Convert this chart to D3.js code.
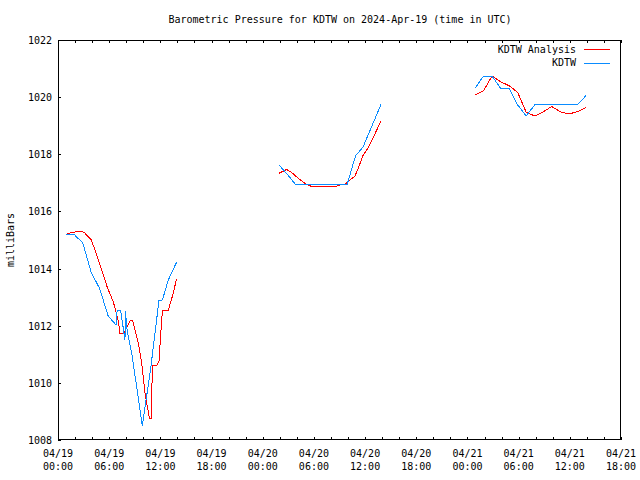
<!DOCTYPE html>
<html><head><meta charset="utf-8">
<script src="https://cdn.jsdelivr.net/npm/d3@7"></script>
<style>
html,body{margin:0;padding:0;background:#fff;}
svg text{font-family:"DejaVu Sans Mono","Liberation Mono",monospace;font-size:10px;fill:#000;}
</style></head>
<body>
<svg id="chart" width="640" height="480"></svg>
<script>
// ---------------- data ----------------
const title = "Barometric Pressure for KDTW on 2024-Apr-19 (time in UTC)";
const yLabel = "milliBars";
const seriesNames = ["KDTW Analysis", "KDTW"];
const yTicks = [1008, 1010, 1012, 1014, 1016, 1018, 1020, 1022];

// KDTW Analysis (red) — null marks a gap
const anaTime = [
 "2024-04-19 01:05","2024-04-19 01:41","2024-04-19 02:35","2024-04-19 03:03","2024-04-19 03:52",
 "2024-04-19 04:16","2024-04-19 04:44","2024-04-19 05:07","2024-04-19 05:49","2024-04-19 06:29",
 "2024-04-19 07:05","2024-04-19 07:16","2024-04-19 07:45","2024-04-19 08:26","2024-04-19 08:45",
 "2024-04-19 09:25","2024-04-19 09:49","2024-04-19 10:12","2024-04-19 10:43","2024-04-19 10:56",
 "2024-04-19 11:04","2024-04-19 11:34","2024-04-19 11:50","2024-04-19 12:09","2024-04-19 12:16",
 "2024-04-19 12:56","2024-04-19 13:24","2024-04-19 13:54",
 null,
 "2024-04-20 01:53","2024-04-20 02:48","2024-04-20 03:24","2024-04-20 04:10","2024-04-20 04:58",
 "2024-04-20 05:44","2024-04-20 08:28","2024-04-20 09:04","2024-04-20 09:39","2024-04-20 10:14",
 "2024-04-20 10:49","2024-04-20 11:12","2024-04-20 11:47","2024-04-20 12:12","2024-04-20 12:54",
 "2024-04-20 13:53",
 null,
 "2024-04-21 00:53","2024-04-21 01:53","2024-04-21 02:53","2024-04-21 03:53","2024-04-21 04:53",
 "2024-04-21 05:53","2024-04-21 06:53","2024-04-21 07:53","2024-04-21 08:53","2024-04-21 09:53",
 "2024-04-21 10:53","2024-04-21 11:53","2024-04-21 12:53","2024-04-21 13:53"
];
const anaP = [
 1015.21,1015.27,1015.30,1015.27,1015.02,
 1014.71,1014.30,1013.95,1013.31,1012.84,
 1012.14,1011.73,1011.73,1012.17,1012.17,
 1011.40,1010.68,1009.63,1008.76,1008.76,
 1010.60,1010.60,1010.74,1012.20,1012.55,
 1012.55,1013.02,1013.63,
 null,
 1017.33,1017.47,1017.36,1017.16,1016.98,
 1016.87,1016.87,1016.93,1016.95,1017.10,
 1017.24,1017.51,1017.98,1018.15,1018.55,
 1019.18,
 null,
 1020.08,1020.22,1020.74,1020.54,1020.40,
 1020.17,1019.47,1019.34,1019.49,1019.67,
 1019.49,1019.41,1019.49,1019.63
];

// KDTW observations (blue)
const obsTime = [
 "2024-04-19 00:53","2024-04-19 01:53","2024-04-19 02:20","2024-04-19 02:53","2024-04-19 03:53",
 "2024-04-19 04:53","2024-04-19 05:53","2024-04-19 06:48","2024-04-19 06:56","2024-04-19 07:21",
 "2024-04-19 07:51","2024-04-19 07:54","2024-04-19 08:07","2024-04-19 08:38","2024-04-19 09:13",
 "2024-04-19 09:53","2024-04-19 10:53","2024-04-19 11:50","2024-04-19 12:14","2024-04-19 12:56",
 "2024-04-19 13:54",
 null,
 "2024-04-20 01:53","2024-04-20 02:53","2024-04-20 03:53","2024-04-20 04:53","2024-04-20 05:53",
 "2024-04-20 06:53","2024-04-20 07:53","2024-04-20 08:53","2024-04-20 09:53","2024-04-20 10:53",
 "2024-04-20 11:45","2024-04-20 12:53","2024-04-20 13:53",
 null,
 "2024-04-21 00:53","2024-04-21 01:53","2024-04-21 02:53","2024-04-21 03:53","2024-04-21 04:53",
 "2024-04-21 05:53","2024-04-21 06:53","2024-04-21 07:53","2024-04-21 08:53","2024-04-21 09:53",
 "2024-04-21 10:53","2024-04-21 11:53","2024-04-21 12:53","2024-04-21 13:53"
];
const obsP = [
 1015.21,1015.20,1015.06,1014.92,1013.87,
 1013.30,1012.34,1012.03,1012.53,1012.53,
 1011.50,1012.53,1011.80,1011.05,1009.87,
 1008.49,1010.55,1012.88,1012.90,1013.60,
 1014.22,
 null,
 1017.63,1017.30,1016.93,1016.93,1016.93,
 1016.93,1016.93,1016.93,1016.93,1017.95,
 1018.25,1019.05,1019.76,
 null,
 1020.31,1020.74,1020.74,1020.31,1020.31,
 1019.73,1019.34,1019.73,1019.73,1019.73,
 1019.73,1019.73,1019.73,1020.05
];

// ---------------- chart ----------------
const parse = d3.utcParse("%Y-%m-%d %H:%M");
const m = {left: 58, right: 621, top: 40, bottom: 440};
const svg = d3.select("#chart");

const x = d3.scaleUtc()
  .domain([parse("2024-04-19 00:00"), parse("2024-04-21 18:00")])
  .range([m.left, m.right]);
const y = d3.scaleLinear().domain([1008, 1022]).range([m.bottom, m.top]);

function toSeries(times, vals){
  return times.map((t,i) => ({t: t ? parse(t) : null, p: vals[i]}));
}
const ana = toSeries(anaTime, anaP);
const obs = toSeries(obsTime, obsP);

// ticks
const tickG = svg.append("g").attr("shape-rendering","crispEdges").attr("stroke","#000");
const minor = x.ticks(d3.utcHour.every(2));
minor.forEach(t => {
  const xx = Math.round(x(t)) + 0.5;
  tickG.append("line").attr("x1",xx).attr("x2",xx).attr("y1",m.bottom).attr("y2",m.bottom-3);
  tickG.append("line").attr("x1",xx).attr("x2",xx).attr("y1",m.top).attr("y2",m.top+3);
});
yTicks.forEach(v => {
  const yy = Math.round(y(v)) + 0.5;
  tickG.append("line").attr("x1",m.left).attr("x2",m.left+3).attr("y1",yy).attr("y2",yy);
});

// y labels
svg.append("g").selectAll("text").data(yTicks).join("text")
  .attr("x", 52).attr("y", d => y(d) + 4)
  .attr("text-anchor","end").text(d => d);

// x labels
const major = x.ticks(d3.utcHour.every(6));
const fmtD = d3.utcFormat("%m/%d"), fmtT = d3.utcFormat("%H:%M");
const xl = svg.append("g").selectAll("g").data(major).join("g")
  .attr("transform", d => `translate(${x(d)},0)`);
xl.append("text").attr("y", 457).attr("text-anchor","middle").text(d => fmtD(d));
xl.append("text").attr("y", 470).attr("text-anchor","middle").text(d => fmtT(d));

// frame
svg.append("rect").attr("x", m.left+0.5).attr("y", m.top+0.5)
  .attr("width", m.right-m.left-1).attr("height", m.bottom-m.top-1)
  .attr("fill","none").attr("stroke","#000").attr("shape-rendering","crispEdges");

// title & axis label
svg.append("text").attr("x", 340).attr("y", 23).attr("text-anchor","middle").text(title);
svg.append("text").attr("transform","translate(14,240) rotate(-90)")
  .attr("text-anchor","middle").text(yLabel);

// lines
const line = d3.line().defined(d => d.p != null && d.t != null)
  .x(d => x(d.t)).y(d => y(d.p));
const colors = ["#ff0000", "#0a8cff"];
svg.append("path").datum(ana).attr("d", line).attr("fill","none")
  .attr("stroke", colors[0]).attr("stroke-width",1).attr("shape-rendering","crispEdges");
svg.append("path").datum(obs).attr("d", line).attr("fill","none")
  .attr("stroke", colors[1]).attr("stroke-width",1).attr("shape-rendering","crispEdges");

// legend
const lg = svg.append("g");
seriesNames.forEach((n,i) => {
  const yy = 49 + i*13.5;
  lg.append("text").attr("x", 576).attr("y", yy+3.5).attr("text-anchor","end").text(n);
  lg.append("line").attr("x1",584).attr("x2",610).attr("y1",Math.round(yy)+0.5).attr("y2",Math.round(yy)+0.5)
    .attr("stroke", colors[i]).attr("stroke-width",1).attr("shape-rendering","crispEdges");
});
</script>
</body></html>
